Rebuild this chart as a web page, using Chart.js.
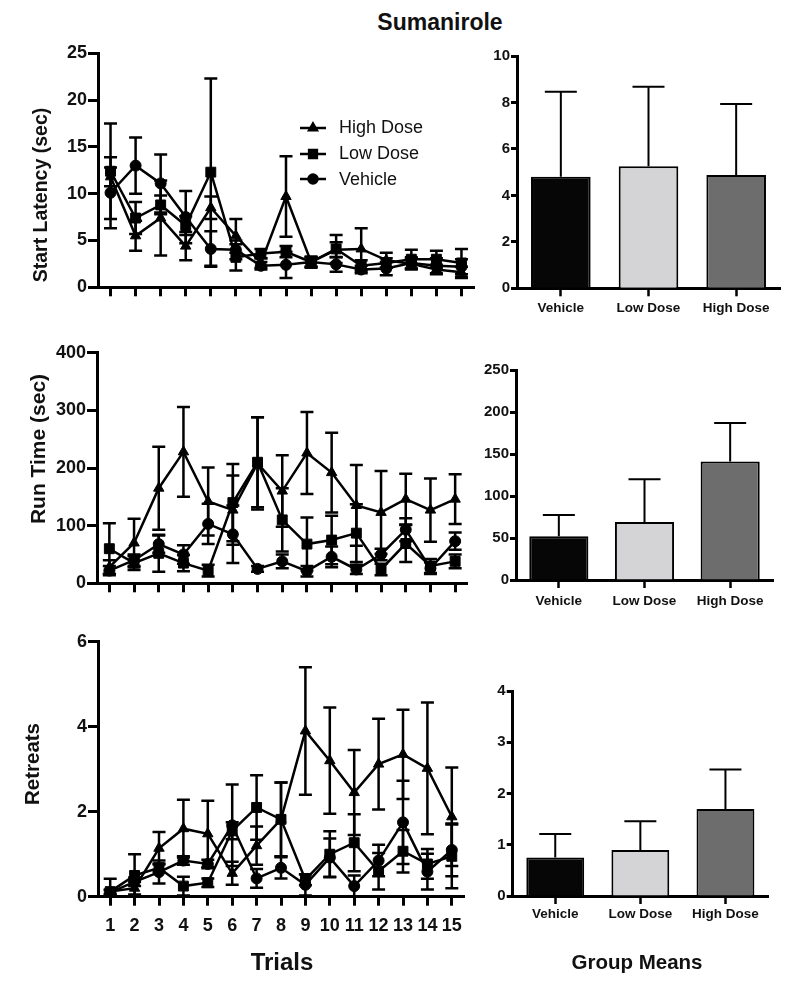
<!DOCTYPE html>
<html>
<head>
<meta charset="utf-8">
<script src="https://cdn.jsdelivr.net/npm/chart.js@4.4.1/dist/chart.umd.min.js"></script>
<style>
body{margin:0;background:#fff;}
#wrap{position:relative;width:800px;height:990px;font-family:'Liberation Sans',Arial,sans-serif;color:#111;overflow:hidden;}
#wrap > canvas{position:absolute;}
.t{position:absolute;white-space:nowrap;font-weight:bold;transform:translate(-50%,-50%);}
.yt{transform:translate(-50%,-50%) rotate(-90deg);}
#legend{position:absolute;left:300px;top:115px;font-size:18px;}
#legend div{height:25.8px;display:flex;align-items:center;}
#legend canvas{margin-right:13px;}
</style>
</head>
<body>
<div id="wrap">
  <div class="t" style="left:440px;top:22px;font-size:23px;">Sumanirole</div>

  <canvas id="latLine" width="490" height="300" style="left:0;top:30px;"></canvas>
  <canvas id="latBar" width="335" height="300" style="left:465px;top:30px;"></canvas>
  <canvas id="runLine" width="490" height="300" style="left:0;top:330px;"></canvas>
  <canvas id="runBar" width="335" height="300" style="left:465px;top:330px;"></canvas>
  <canvas id="retLine" width="490" height="330" style="left:0;top:620px;"></canvas>
  <canvas id="retBar" width="335" height="300" style="left:465px;top:630px;"></canvas>

  <div class="t yt" style="left:40px;top:195px;font-size:19.5px;">Start Latency (sec)</div>
  <div class="t yt" style="left:38px;top:449px;font-size:21px;">Run Time (sec)</div>
  <div class="t yt" style="left:32px;top:764px;font-size:20.5px;">Retreats</div>

  <div id="legend">
    <div><canvas id="lgHigh" width="26" height="14"></canvas>High Dose</div>
    <div><canvas id="lgLow" width="26" height="14"></canvas>Low Dose</div>
    <div><canvas id="lgVeh" width="26" height="14"></canvas>Vehicle</div>
  </div>

  <div class="t" style="left:282px;top:962px;font-size:24px;">Trials</div>
  <div class="t" style="left:637px;top:962px;font-size:20.5px;">Group Means</div>
</div>

<script>
// categories
var trials = [1, 2, 3, 4, 5, 6, 7, 8, 9, 10, 11, 12, 13, 14, 15];
var groups = ['Vehicle', 'Low Dose', 'High Dose'];

// start latency (sec) - mean and error per trial
var latHigh    = [11.8, 5.5, 7.4, 4.4, 8.5, 5.5, 2.6, 9.7, 2.7, 4.0, 4.1, 2.9, 2.5, 1.9, 1.6];
var latHighErr = [1.0, 1.6, 4.0, 1.5, 1.2, 1.8, 0.5, 4.3, 0.6, 0.8, 2.2, 0.8, 0.6, 0.5, 0.6];
var latLow     = [12.4, 7.4, 8.8, 6.6, 12.3, 3.2, 3.6, 3.8, 2.7, 4.1, 2.3, 2.6, 3.0, 3.0, 2.6];
var latLowErr  = [5.1, 1.7, 1.0, 1.0, 10.0, 1.4, 0.5, 0.6, 0.5, 1.5, 0.6, 0.5, 1.0, 0.9, 1.5];
var latVeh     = [10.1, 13.0, 11.1, 7.5, 4.1, 4.0, 2.3, 2.4, 2.7, 2.45, 1.9, 2.0, 2.6, 2.3, 2.2];
var latVehErr  = [3.8, 3.0, 3.1, 2.8, 1.9, 1.0, 0.4, 1.4, 0.5, 0.8, 0.4, 0.7, 0.6, 0.8, 0.8];

// run time (sec)
var runHigh    = [28, 70, 165, 228, 142, 127, 208, 160, 226, 192, 135, 123, 146, 127, 146];
var runHighErr = [12, 42, 72, 78, 59, 60, 80, 62, 71, 69, 70, 72, 44, 55, 43];
var runLow     = [60, 35, 52, 35, 22, 140, 210, 110, 68, 75, 87, 24, 69, 30, 38];
var runLowErr  = [44, 12, 32, 14, 10, 67, 78, 55, 46, 42, 50, 10, 32, 12, 12];
var runVeh     = [22, 40, 68, 50, 103, 85, 25, 38, 21, 46, 24, 50, 93, 26, 73];
var runVehErr  = [8, 10, 15, 16, 35, 50, 5, 12, 9, 18, 8, 10, 20, 10, 15];

// retreats
var retHigh    = [0.12, 0.2, 1.14, 1.6, 1.48, 0.55, 1.2, 1.82, 3.9, 3.2, 2.45, 3.12, 3.35, 3.02, 1.88];
var retHighErr = [0.05, 0.15, 0.38, 0.68, 0.78, 0.27, 0.45, 0.87, 1.5, 1.25, 1.0, 1.07, 1.05, 1.55, 1.16];
var retLow     = [0.12, 0.5, 0.68, 0.25, 0.33, 1.55, 2.1, 1.82, 0.4, 1.0, 1.27, 0.6, 1.07, 0.77, 0.95];
var retLowErr  = [0.3, 0.5, 0.1, 0.22, 0.1, 0.2, 0.76, 0.87, 0.13, 0.54, 0.67, 0.43, 0.5, 0.35, 0.75];
var retVeh     = [0.1, 0.35, 0.58, 0.85, 0.77, 1.68, 0.43, 0.68, 0.28, 0.92, 0.25, 0.85, 1.75, 0.59, 1.1];
var retVehErr  = [0.05, 0.1, 0.27, 0.1, 0.1, 0.96, 0.22, 0.25, 0.25, 0.45, 0.25, 0.37, 0.98, 0.42, 0.62];

// group means (Vehicle, Low Dose, High Dose)
var barLatMean = [4.8, 5.25, 4.88];
var barLatErr  = [3.66, 3.43, 3.05];
var barRunMean = [52, 69, 141];
var barRunErr  = [25.5, 51, 46];
var barRetMean = [0.75, 0.9, 1.7];
var barRetErr  = [0.46, 0.56, 0.77];

var barColors = ['#060606', '#d4d4d7', '#6d6d6d'];
var sans = "'Liberation Sans', Arial, sans-serif";

// draws the error bars of every dataset that has an "errors" array
var errorBars = {
    id: 'errorBars',
    beforeDatasetsDraw: function(chart, args, opts) {
        var ctx = chart.ctx;
        var y = chart.scales.y;
        chart.data.datasets.forEach(function(ds, i) {
            if (!ds.errors) return;
            var meta = chart.getDatasetMeta(i);
            ctx.save();
            ctx.strokeStyle = '#000';
            ctx.lineWidth = opts.width;
            meta.data.forEach(function(el, j) {
                var v = ds.data[j], e = ds.errors[j];
                var top = y.getPixelForValue(v + e);
                var bot = opts.upOnly ? y.getPixelForValue(v) : y.getPixelForValue(Math.max(v - e, y.min));
                var half = opts.cap / 2;
                ctx.beginPath();
                ctx.moveTo(el.x, top);
                ctx.lineTo(el.x, bot);
                ctx.moveTo(el.x - half, top);
                ctx.lineTo(el.x + half, top);
                if (!opts.upOnly) {
                    ctx.moveTo(el.x - half, bot);
                    ctx.lineTo(el.x + half, bot);
                }
                ctx.stroke();
            });
            ctx.restore();
        });
    }
};

function series(label, data, errors, style, r) {
    return {
        label: label, data: data, errors: errors,
        pointStyle: style, pointRadius: r, pointHoverRadius: r,
        borderColor: '#000', backgroundColor: '#000',
        borderWidth: 2.5, pointBorderWidth: 1, tension: 0, fill: false
    };
}

function axisY(max, step, width, font, tick) {
    return {
        min: 0, max: max,
        border: {color: '#000', width: 3},
        grid: {drawOnChartArea: false, drawTicks: true, tickLength: tick, tickWidth: 3, tickColor: '#000'},
        ticks: {stepSize: step, padding: 1, color: '#111', font: font},
        afterFit: function(s) { s.width = width; }
    };
}

function lineChart(id, box, sets, yMax, yStep, showLabels) {
    new Chart(document.getElementById(id), {
        type: 'line',
        data: {labels: trials, datasets: sets},
        options: {
            responsive: false,
            animation: false,
            layout: {padding: {top: box.top, right: box.right, left: 0, bottom: 0}},
            plugins: {
                legend: {display: false},
                tooltip: {enabled: false},
                errorBars: {cap: 13, width: 2.5}
            },
            scales: {
                x: {
                    type: 'category', offset: true,
                    border: {color: '#000', width: 3},
                    grid: {drawOnChartArea: false, drawTicks: true, tickLength: 9, tickWidth: 3, tickColor: '#000'},
                    ticks: {display: showLabels, autoSkip: false, maxRotation: 0, padding: 10, color: '#111',
                            font: {family: sans, size: 18, weight: 'bold'}},
                    afterFit: function(s) { s.height = box.xh; }
                },
                y: axisY(yMax, yStep, box.left, {family: sans, size: 18, weight: 'bold'}, 10)
            }
        },
        plugins: [errorBars]
    });
}

function barChart(id, box, means, errs, yMax, yStep, pct) {
    new Chart(document.getElementById(id), {
        type: 'bar',
        data: {
            labels: groups,
            datasets: [{
                data: means, errors: errs,
                backgroundColor: barColors, borderColor: '#000', borderWidth: 2,
                barPercentage: pct, categoryPercentage: 1
            }]
        },
        options: {
            responsive: false,
            animation: false,
            layout: {padding: {top: box.top, right: box.right, left: 0, bottom: 0}},
            plugins: {
                legend: {display: false},
                tooltip: {enabled: false},
                errorBars: {cap: 32, width: 2, upOnly: true}
            },
            scales: {
                x: {
                    border: {color: '#000', width: 3},
                    grid: {offset: false, drawOnChartArea: false, drawTicks: true, tickLength: 8, tickWidth: 2.5, tickColor: '#000'},
                    ticks: {padding: box.lp, color: '#111', font: {family: sans, size: 13.5, weight: 'bold'}},
                    afterFit: function(s) { s.height = box.xh; }
                },
                y: axisY(yMax, yStep, box.left, {family: sans, size: 15, weight: 'bold'}, 6)
            }
        },
        plugins: [errorBars]
    });
}

lineChart('latLine', {left: 98, top: 23.3, right: 16, xh: 42.7}, [
    series('High Dose', latHigh, latHighErr, 'triangle', 6),
    series('Low Dose', latLow, latLowErr, 'rect', 7),
    series('Vehicle', latVeh, latVehErr, 'circle', 5.5)
], 25, 5, false);

lineChart('runLine', {left: 97, top: 22.7, right: 22.5, xh: 46.7}, [
    series('High Dose', runHigh, runHighErr, 'triangle', 6),
    series('Low Dose', runLow, runLowErr, 'rect', 7),
    series('Vehicle', runVeh, runVehErr, 'circle', 5.5)
], 400, 100, false);

lineChart('retLine', {left: 98, top: 21.7, right: 26, xh: 53.3}, [
    series('High Dose', retHigh, retHighErr, 'triangle', 6),
    series('Low Dose', retLow, retLowErr, 'rect', 7),
    series('Vehicle', retVeh, retVehErr, 'circle', 5.5)
], 6, 2, true);

barChart('latBar', {left: 52, top: 26, right: 20, xh: 41.7, lp: 4}, barLatMean, barLatErr, 10, 2, 0.68);
barChart('runBar', {left: 51, top: 40, right: 27, xh: 50, lp: 5}, barRunMean, barRunErr, 250, 50, 0.69);
barChart('retBar', {left: 47.7, top: 61, right: 32, xh: 34, lp: 2}, barRetMean, barRetErr, 4, 1, 0.68);

// legend symbols: short line with the series marker in the middle
function legendMark(id, style) {
    var ctx = document.getElementById(id).getContext('2d');
    ctx.strokeStyle = '#000';
    ctx.fillStyle = '#000';
    ctx.lineWidth = 2.5;
    ctx.beginPath();
    ctx.moveTo(0, 7);
    ctx.lineTo(26, 7);
    ctx.stroke();
    Chart.helpers.drawPoint(ctx, {pointStyle: style, radius: style === 'rect' ? 5.5 : 4.5, borderWidth: 1}, 13, 7);
}
legendMark('lgHigh', 'triangle');
legendMark('lgLow', 'rect');
legendMark('lgVeh', 'circle');
</script>
</body>
</html>
